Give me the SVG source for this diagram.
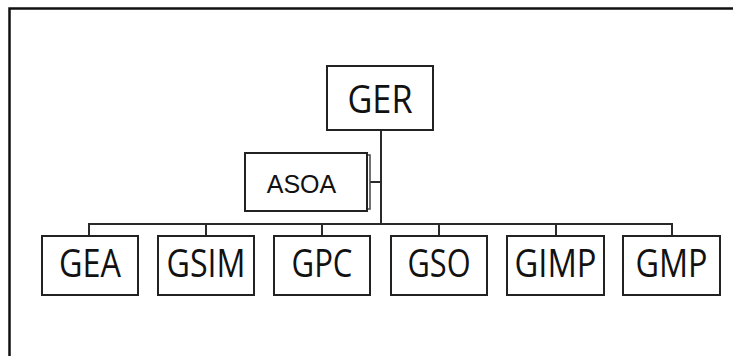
<svg xmlns="http://www.w3.org/2000/svg" width="733" height="356" viewBox="0 0 733 356">
<style>
.box{fill:#fff;stroke:#222;stroke-width:2}
.lbl{font-family:"Open Sans",sans-serif;font-size:38px;fill:#111;text-anchor:middle}
.con{fill:none;stroke:#2a2a2a;stroke-width:2}
</style>
<rect width="733" height="356" fill="#fff"/>
<path d="M9.5,356 V8.5 H733" fill="none" stroke="#111" stroke-width="2.5"/>
<g id="connectors">
<path class="con" d="M381,130 V224"/>
<path class="con" d="M370,182 H381"/>
<path class="con" d="M89,236 V224 H672 V236"/>
<path class="con" d="M206,224 V236 M322,224 V236 M439,224 V236 M556,224 V236"/>
</g>
<g id="GER">
<rect class="box" x="327" y="66" width="106" height="64"/>
<text class="lbl" x="380" y="113" font-size="39" textLength="65" lengthAdjust="spacingAndGlyphs">GER</text>
</g>
<g id="ASOA">
<path d="M367,155 H370 V209 H367" fill="none" stroke="#444" stroke-width="1.5"/>
<rect class="box" x="245" y="153" width="122" height="58"/>
<text x="301.5" y="193" font-family="Liberation Sans, Arial, sans-serif" font-size="25" fill="#111" text-anchor="middle">ASOA</text>
</g>
<g id="GEA">
<rect class="box" x="42" y="236" width="96" height="59"/>
<text class="lbl" x="90" y="277" textLength="62" lengthAdjust="spacingAndGlyphs">GEA</text>
</g>
<g id="GSIM">
<rect class="box" x="158" y="236" width="96" height="59"/>
<text class="lbl" x="206" y="277" textLength="79" lengthAdjust="spacingAndGlyphs">GSIM</text>
</g>
<g id="GPC">
<rect class="box" x="274" y="236" width="96" height="59"/>
<text class="lbl" x="322" y="277" textLength="61" lengthAdjust="spacingAndGlyphs">GPC</text>
</g>
<g id="GSO">
<rect class="box" x="391" y="236" width="96" height="59"/>
<text class="lbl" x="439" y="277" textLength="63" lengthAdjust="spacingAndGlyphs">GSO</text>
</g>
<g id="GIMP">
<rect class="box" x="507" y="236" width="97" height="59"/>
<text class="lbl" x="555.5" y="277" textLength="82" lengthAdjust="spacingAndGlyphs">GIMP</text>
</g>
<g id="GMP">
<rect class="box" x="623" y="236" width="97" height="59"/>
<text class="lbl" x="671.5" y="277" textLength="72" lengthAdjust="spacingAndGlyphs">GMP</text>
</g>
</svg>
